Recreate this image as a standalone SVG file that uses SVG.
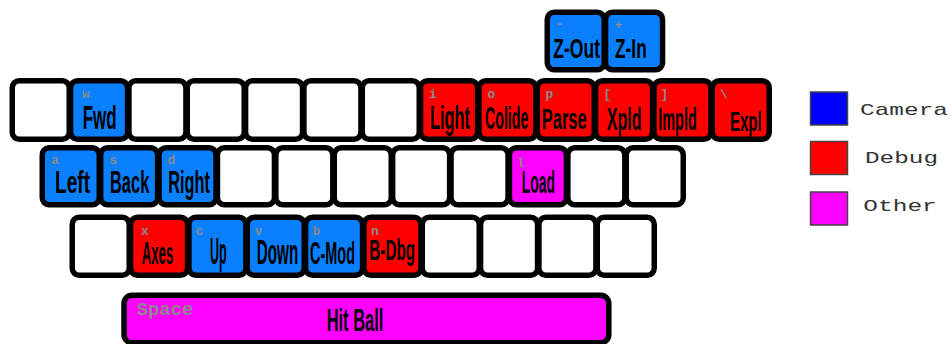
<svg xmlns="http://www.w3.org/2000/svg" width="952" height="344" viewBox="0 0 952 344">
<style>
.k{stroke:#000;stroke-width:5.5}
.wt{fill:#fff}.bl{fill:#0a80ff}.rd{fill:#ff0000}.mg{fill:#ff00ff}
.lb{font-family:"Liberation Sans",Arial,sans-serif;font-weight:bold;fill:#000}
.ch{font-family:"Liberation Mono","Courier New",monospace;font-weight:bold;font-size:13px;fill:#8a8a8a}
.lg{stroke:#444;stroke-width:1.5}
.lt{font-family:"Liberation Mono","Courier New",monospace;font-size:17px;fill:#333}
</style>
<rect width="952" height="344" fill="#fff"/>
<!-- Row 0 -->
<g id="key-minus"><rect class="k bl" x="547.25" y="12.25" width="57" height="57.5" rx="7"/><text class="ch" x="555.5" y="28">-</text><text class="lb" x="553.3" y="58.3" font-size="28" textLength="46.7" lengthAdjust="spacingAndGlyphs">Z-Out</text></g>
<g id="key-plus"><rect class="k bl" x="605.55" y="12.25" width="57" height="57.5" rx="7"/><text class="ch" x="614.5" y="29">+</text><text class="lb" x="615" y="58.3" font-size="28" textLength="31.7" lengthAdjust="spacingAndGlyphs">Z-In</text></g>
<!-- Row 1 -->
<g id="key-q"><rect class="k wt" x="12.25" y="80.75" width="57" height="58.5" rx="7"/></g>
<g id="key-w"><rect class="k bl" x="70.58" y="80.75" width="57" height="58.5" rx="7"/><text class="ch" x="82" y="98">w</text><text class="lb" x="82.7" y="129" font-size="33" textLength="34" lengthAdjust="spacingAndGlyphs">Fwd</text></g>
<g id="key-e"><rect class="k wt" x="128.92" y="80.75" width="57" height="58.5" rx="7"/></g>
<g id="key-r"><rect class="k wt" x="187.25" y="80.75" width="57" height="58.5" rx="7"/></g>
<g id="key-t"><rect class="k wt" x="245.58" y="80.75" width="57" height="58.5" rx="7"/></g>
<g id="key-y"><rect class="k wt" x="303.92" y="80.75" width="57" height="58.5" rx="7"/></g>
<g id="key-u"><rect class="k wt" x="362.25" y="80.75" width="57" height="58.5" rx="7"/></g>
<g id="key-i"><rect class="k rd" x="420.58" y="80.75" width="57" height="58.5" rx="7"/><text class="ch" x="429" y="98">i</text><text class="lb" x="430" y="128.5" font-size="33" textLength="40" lengthAdjust="spacingAndGlyphs">Light</text></g>
<g id="key-o"><rect class="k rd" x="478.92" y="80.75" width="57" height="58.5" rx="7"/><text class="ch" x="487.5" y="98">o</text><text class="lb" x="485" y="129" font-size="31" textLength="43.3" lengthAdjust="spacingAndGlyphs">Colide</text></g>
<g id="key-p"><rect class="k rd" x="537.25" y="80.75" width="57" height="58.5" rx="7"/><text class="ch" x="545.5" y="98">p</text><text class="lb" x="541.7" y="128.5" font-size="30" textLength="45" lengthAdjust="spacingAndGlyphs">Parse</text></g>
<g id="key-lbracket"><rect class="k rd" x="595.58" y="80.75" width="57" height="58.5" rx="7"/><text class="ch" x="603.5" y="98">[</text><text class="lb" x="606.7" y="130" font-size="32" textLength="35" lengthAdjust="spacingAndGlyphs">Xpld</text></g>
<g id="key-rbracket"><rect class="k rd" x="653.92" y="80.75" width="57" height="58.5" rx="7"/><text class="ch" x="660.5" y="98">]</text><text class="lb" x="658.3" y="130" font-size="32" textLength="38.4" lengthAdjust="spacingAndGlyphs">Impld</text></g>
<g id="key-backslash"><rect class="k rd" x="712.25" y="80.75" width="57" height="58.5" rx="7"/><text class="ch" x="720" y="98">\</text><text class="lb" x="730" y="130.5" font-size="28" textLength="31.7" lengthAdjust="spacingAndGlyphs">Expl</text></g>
<!-- Row 2 -->
<g id="key-a"><rect class="k bl" x="42.25" y="147.75" width="57" height="57" rx="7"/><text class="ch" x="51" y="163.5">a</text><text class="lb" x="55" y="192.7" font-size="32" textLength="35" lengthAdjust="spacingAndGlyphs">Left</text></g>
<g id="key-s"><rect class="k bl" x="100.65" y="147.75" width="57" height="57" rx="7"/><text class="ch" x="109.3" y="163.5">s</text><text class="lb" x="110" y="192.7" font-size="32" textLength="39.3" lengthAdjust="spacingAndGlyphs">Back</text></g>
<g id="key-d"><rect class="k bl" x="159.05" y="147.75" width="57" height="57" rx="7"/><text class="ch" x="167.5" y="163.5">d</text><text class="lb" x="168.3" y="192.7" font-size="32" textLength="41.7" lengthAdjust="spacingAndGlyphs">Right</text></g>
<g id="key-f"><rect class="k wt" x="217.45" y="147.75" width="57" height="57" rx="7"/></g>
<g id="key-g"><rect class="k wt" x="275.85" y="147.75" width="57" height="57" rx="7"/></g>
<g id="key-h"><rect class="k wt" x="334.25" y="147.75" width="57" height="57" rx="7"/></g>
<g id="key-j"><rect class="k wt" x="392.65" y="147.75" width="57" height="57" rx="7"/></g>
<g id="key-k"><rect class="k wt" x="451.05" y="147.75" width="57" height="57" rx="7"/></g>
<g id="key-l"><rect class="k mg" x="509.45" y="147.75" width="57" height="57" rx="7"/><text class="ch" x="517" y="167">l</text><text class="lb" x="521.7" y="193.3" font-size="31" textLength="33.3" lengthAdjust="spacingAndGlyphs">Load</text></g>
<g id="key-semicolon"><rect class="k wt" x="567.85" y="147.75" width="57" height="57" rx="7"/></g>
<g id="key-quote"><rect class="k wt" x="626.25" y="147.75" width="57" height="57" rx="7"/></g>
<!-- Row 3 -->
<g id="key-z"><rect class="k wt" x="72.25" y="217.25" width="57" height="58" rx="7"/></g>
<g id="key-x"><rect class="k rd" x="130.58" y="217.25" width="57" height="58" rx="7"/><text class="ch" x="141" y="235">x</text><text class="lb" x="141.7" y="264.3" font-size="31" textLength="31.6" lengthAdjust="spacingAndGlyphs">Axes</text></g>
<g id="key-c"><rect class="k bl" x="188.92" y="217.25" width="57" height="58" rx="7"/><text class="ch" x="195.5" y="235">c</text><text class="lb" x="210" y="264.3" font-size="37" textLength="16.7" lengthAdjust="spacingAndGlyphs">Up</text></g>
<g id="key-v"><rect class="k bl" x="247.25" y="217.25" width="57" height="58" rx="7"/><text class="ch" x="254.5" y="235">v</text><text class="lb" x="256.7" y="264.3" font-size="35" textLength="41.6" lengthAdjust="spacingAndGlyphs">Down</text></g>
<g id="key-b"><rect class="k bl" x="305.58" y="217.25" width="57" height="58" rx="7"/><text class="ch" x="312.5" y="235">b</text><text class="lb" x="310" y="264.3" font-size="31" textLength="45" lengthAdjust="spacingAndGlyphs">C-Mod</text></g>
<g id="key-n"><rect class="k rd" x="363.92" y="217.25" width="57" height="58" rx="7"/><text class="ch" x="371" y="235">n</text><text class="lb" x="369.3" y="260" font-size="30" textLength="45.7" lengthAdjust="spacingAndGlyphs">B-Dbg</text></g>
<g id="key-m"><rect class="k wt" x="422.25" y="217.25" width="57" height="58" rx="7"/></g>
<g id="key-comma"><rect class="k wt" x="480.58" y="217.25" width="57" height="58" rx="7"/></g>
<g id="key-period"><rect class="k wt" x="538.92" y="217.25" width="57" height="58" rx="7"/></g>
<g id="key-slash"><rect class="k wt" x="597.25" y="217.25" width="57" height="58" rx="7"/></g>
<!-- Space -->
<g id="key-space"><rect class="k mg" x="124" y="295.25" width="484.8" height="47.5" rx="8"/><text class="ch" x="136.7" y="315" font-size="18.5" textLength="56.6" lengthAdjust="spacingAndGlyphs" style="font-size:18.5px">Space</text><text class="lb" x="326.7" y="331" font-size="32" textLength="56.6" lengthAdjust="spacingAndGlyphs">Hit Ball</text></g>
<!-- Legend -->
<g id="legend-camera"><rect class="lg" x="810.5" y="92" width="37" height="33" fill="#0000ff"/><text class="lt" x="860" y="114.5" textLength="88" lengthAdjust="spacingAndGlyphs">Camera</text></g>
<g id="legend-debug"><rect class="lg" x="810.5" y="141.5" width="37" height="33" fill="#ff0000"/><text class="lt" x="865" y="163.3" textLength="73" lengthAdjust="spacingAndGlyphs">Debug</text></g>
<g id="legend-other"><rect class="lg" x="810.5" y="192" width="37" height="33" fill="#ff00ff"/><text class="lt" x="863.3" y="211" textLength="73.5" lengthAdjust="spacingAndGlyphs">Other</text></g>
</svg>
